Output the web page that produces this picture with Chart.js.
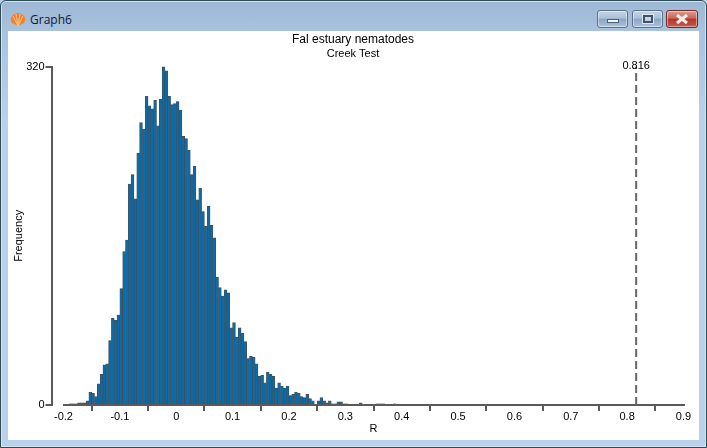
<!DOCTYPE html>
<html>
<head>
<meta charset="utf-8">
<script src="https://cdn.jsdelivr.net/npm/chart.js@4"></script>
<style>
html,body{margin:0;padding:0;width:707px;height:448px;overflow:hidden;background:#b9d1ea}
#frame{position:absolute;left:0;top:0;width:705px;height:446px;border:1px solid #2f4a55;border-radius:6px 6px 0 0;
 background:linear-gradient(to bottom,#9cb7d4 0,#a9c2de 30px,#b9d1ea 120px,#b9d1ea 100%);box-shadow:inset 0 0 0 1px #d5e3f1}
#client{position:absolute;left:8px;top:31px;width:691px;height:409px;background:#fff}
#cap{position:absolute;left:30px;top:12px;font:12px/16px "Open Sans","Noto Sans",sans-serif;color:#101a30}
#ico{position:absolute;left:10px;top:12px}
.btn{position:absolute;top:10px;width:29px;height:16px;border:1px solid #5d7289;border-radius:3px;
 background:linear-gradient(to bottom,#c3d5e8 0,#a9c0d9 45%,#8aa5c3 50%,#a9c2dc 100%);box-shadow:inset 0 0 0 1px rgba(255,255,255,.45)}
#bmin{left:597px}#bmax{left:632px}
#bcls{left:666px;width:30px;border-color:#6a2a2a;background:linear-gradient(to bottom,#dc9a8f 0,#c9675a 45%,#b4362a 50%,#c65a48 100%)}
#bmin i{position:absolute;left:9px;top:8px;width:10px;height:2px;background:#eef3f8;border:1px solid #4e6070}
#bmax i{position:absolute;left:10px;top:4px;width:6px;height:4px;border:2px solid #3f5268;background:#c6d6e6;outline:1px solid #dfe8f1}
#bcls svg{position:absolute;left:7px;top:2px}
canvas{position:absolute;left:0;top:0}
</style>
</head>
<body>
<div id="frame"></div>
<div id="client"></div>
<svg id="ico" width="16" height="15" viewBox="0 0 16 15">
 <path d="M8 14 L2 11 Q-1 6 3 3 Q8 -1 13 3 Q17 6 14 11 Z" fill="#f5822a"/>
 <path d="M8 14 L3 4 M8 14 L6 2 M8 14 L10 2 M8 14 L13 4" stroke="#fbc08d" stroke-width="1" fill="none"/>
</svg>
<div id="cap">Graph6</div>
<div class="btn" id="bmin"><i></i></div>
<div class="btn" id="bmax"><i></i></div>
<div class="btn" id="bcls"><svg width="16" height="12" viewBox="0 0 16 12"><path d="M3 2 L13 10 M13 2 L3 10" stroke="#f4ecea" stroke-width="3"/></svg></div>
<canvas id="c" width="707" height="448"></canvas>
<script>
const chartTitle = "Fal estuary nematodes";
const chartSubtitle = "Creek Test";
const xAxisTitle = "R";
const yAxisTitle = "Frequency";
const xTickValues = [-0.2,-0.1,0,0.1,0.2,0.3,0.4,0.5,0.6,0.7,0.8,0.9];
const yTickValues = [0,320];
const observedR = 0.816;
const observedLabel = "0.816";
const binCenters = [
-0.1975,-0.1925,-0.1875,-0.1825,-0.1775,-0.1725,-0.1675,-0.1625,-0.1575,-0.1525,
-0.1475,-0.1425,-0.1375,-0.1325,-0.1275,-0.1225,-0.1175,-0.1125,-0.1075,-0.1025,
-0.0975,-0.0925,-0.0875,-0.0825,-0.0775,-0.0725,-0.0675,-0.0625,-0.0575,-0.0525,
-0.0475,-0.0425,-0.0375,-0.0325,-0.0275,-0.0225,-0.0175,-0.0125,-0.0075,-0.0025,
0.0025,0.0075,0.0125,0.0175,0.0225,0.0275,0.0325,0.0375,0.0425,0.0475,
0.0525,0.0575,0.0625,0.0675,0.0725,0.0775,0.0825,0.0875,0.0925,0.0975,
0.1025,0.1075,0.1125,0.1175,0.1225,0.1275,0.1325,0.1375,0.1425,0.1475,
0.1525,0.1575,0.1625,0.1675,0.1725,0.1775,0.1825,0.1875,0.1925,0.1975,
0.2025,0.2075,0.2125,0.2175,0.2225,0.2275,0.2325,0.2375,0.2425,0.2475,
0.2525,0.2575,0.2625,0.2675,0.2725,0.2775,0.2825,0.2875,0.2925,0.2975,
0.3025,0.3075,0.3125,0.3175,0.3225,0.3275,0.3325,0.3375,0.3425,0.3475,
0.3525,0.3575,0.3625,0.3675,0.3725,0.3775,0.3825,0.3875];
const frequencies = [
0,0,1,1,1,2,2,2,4,12,
11,8,20,29,38,39,61,82,80,85,
110,145,156,209,218,195,238,267,261,292,
283,280,288,264,289,320,316,292,284,285,
287,279,254,252,241,218,226,194,205,183,
169,188,170,158,121,111,103,109,106,73,
78,64,73,68,60,44,46,45,39,27,
28,21,31,29,27,16,21,18,16,18,
9,10,12,11,8,7,10,6,4,0,
4,7,4,2,4,1,1,3,3,1,
1,0,0,0,0,2,0,0,0,0,
0,1,1,1,0,0,0,1];

const LAYOUT_LEFT = 22.5, LAYOUT_TOP = 32, LAYOUT_RIGHT = 23.5, LAYOUT_BOTTOM = 12;
const Y_AXIS_GAP = 12;
const AXIS_COLOR = "#5a5a5a";
const FONT = '"Liberation Sans", Arial, sans-serif';

const shiftYAxis = {
  id: "shiftYAxis",
  afterLayout(chart) {
    const y = chart.scales.y;
    y.left -= Y_AXIS_GAP;
    y.right -= Y_AXIS_GAP;
  }
};
const observedText = {
  id: "observedText",
  afterDatasetsDraw(chart) {
    const ctx = chart.ctx;
    ctx.save();
    ctx.font = "11px " + FONT;
    ctx.fillStyle = "#000";
    ctx.textAlign = "center";
    ctx.textBaseline = "bottom";
    ctx.fillText(observedLabel, chart.scales.x.getPixelForValue(observedR), chart.scales.y.getPixelForValue(320) + 5);
    ctx.restore();
  }
};

new Chart(document.getElementById("c"), {
  type: "bar",
  data: {
    datasets: [
      {
        type: "bar",
        data: binCenters.map((x, i) => ({ x, y: frequencies[i] })),
        backgroundColor: "#0b6ba8",
        borderColor: "#474c52",
        borderWidth: 0.7,
        barPercentage: 1,
        categoryPercentage: 1,
        order: 2
      },
      {
        type: "line",
        data: [{ x: observedR, y: 0 }, { x: observedR, y: 320 }],
        borderColor: "#666666",
        borderWidth: 2,
        borderDash: [8, 4],
        pointRadius: 0,
        order: 1
      }
    ]
  },
  options: {
    responsive: false,
    animation: false,
    layout: { padding: { left: LAYOUT_LEFT, top: LAYOUT_TOP, right: LAYOUT_RIGHT, bottom: LAYOUT_BOTTOM } },
    plugins: {
      legend: { display: false },
      tooltip: { enabled: false },
      title: { display: true, text: chartTitle, color: "#000", font: { family: FONT, size: 12, weight: "normal" }, padding: { top: 0, bottom: 1 } },
      subtitle: { display: true, text: chartSubtitle, color: "#000", font: { family: FONT, size: 11, weight: "normal" }, padding: { top: 0, bottom: 6 } }
    },
    scales: {
      x: {
        type: "linear",
        offset: false,
        min: -0.2,
        max: 0.9,
        afterBuildTicks(axis) { axis.ticks = xTickValues.map(value => ({ value })); },
        afterFit(axis) { axis.height = 31; },
        ticks: { color: "#000", font: { family: FONT, size: 11 }, padding: -1, maxRotation: 0, autoSkip: false },
        grid: { drawOnChartArea: false, color: AXIS_COLOR, lineWidth: 2, tickLength: 6 },
        border: { color: AXIS_COLOR, width: 2 },
        title: { display: true, text: xAxisTitle, color: "#000", font: { family: FONT, size: 11 }, padding: 0 }
      },
      y: {
        type: "linear",
        min: 0,
        max: 320,
        afterBuildTicks(axis) { axis.ticks = yTickValues.map(value => ({ value })); },
        afterFit(axis) { axis.width = 41; },
        ticks: { color: "#000", font: { family: FONT, size: 11 }, padding: 1, autoSkip: false },
        grid: { drawOnChartArea: false, color: AXIS_COLOR, lineWidth: 2, tickLength: 6 },
        border: { color: AXIS_COLOR, width: 2 },
        title: { display: true, text: yAxisTitle, color: "#000", font: { family: FONT, size: 11 }, padding: { top: 2, bottom: 0 } }
      }
    }
  },
  plugins: [shiftYAxis, observedText]
});
</script>
</body>
</html>
